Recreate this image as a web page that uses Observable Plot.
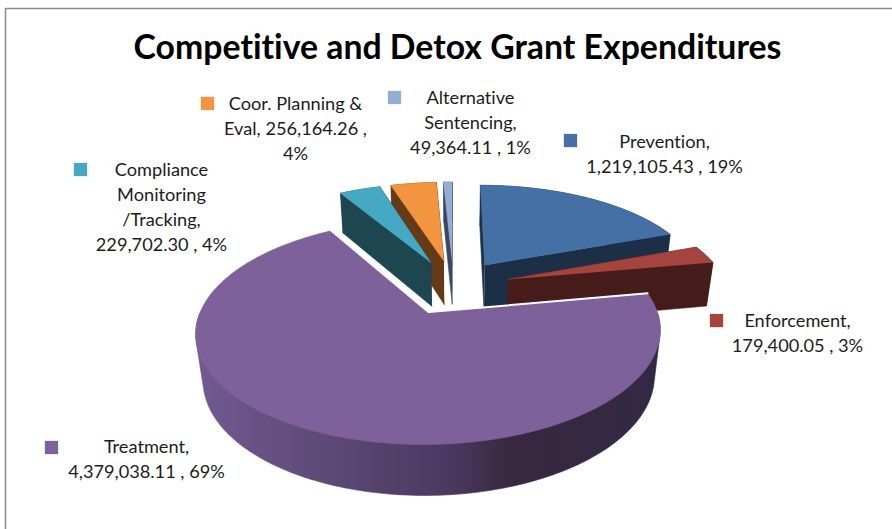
<!DOCTYPE html>
<html>
<head>
<meta charset="utf-8">
<script src="https://cdn.jsdelivr.net/npm/d3@7"></script>
<script src="https://cdn.jsdelivr.net/npm/@observablehq/plot@0.6"></script>
<style>html,body{margin:0;padding:0;background:#fff}svg{display:block}svg text{font-variant-ligatures:none;font-feature-settings:"liga" 0}</style>
</head>
<body>
<div id="chart"></div>
<script>
// Data
const categories = ["Prevention", "Enforcement", "Treatment", "Compliance Monitoring /Tracking", "Coor. Planning & Eval", "Alternative Sentencing"];
const expenditures = [1219105.43, 179400.05, 4379038.11, 229702.30, 256164.26, 49364.11];
const labelTexts = [
  "Prevention,\n1,219,105.43 , 19%",
  "Enforcement,\n179,400.05 , 3%",
  "Treatment,\n4,379,038.11 , 69%",
  "Compliance\nMonitoring\n/Tracking,\n229,702.30 , 4%",
  "Coor. Planning &\nEval, 256,164.26 ,\n4%",
  "Alternative\nSentencing,\n49,364.11 , 1%"
];
const chartTitle = "Competitive and Detox Grant Expenditures";

// Styles
const topColors = ["#4570a6", "#a5433f", "#7e609b", "#46a9c4", "#f29440", "#95acd4"];
const wallColors = ["#1b2f47", "#461c1a", "url(#treatmentWall)", "#1d4651", "#653b16", "#3a4763"];
const gradientStops = [[0, "#725a92"], [0.25, "#5f4b78"], [0.55, "#4a395f"], [0.68, "#38273f"], [1, "#322944"]];

// Layout
const W = 892, H = 529;
const cam = {cx: 453, cy: 286, a: 219, b: 100, k: 0.17, m: 0.027, d: 45.8, explodeU: 0.26, explodeV: 0.27};
const firstLineAt = [[664, 140], [797, 319], [146, 445], [161, 168], [295, 102], [470, 96]];
const lineStep = 24.7;
const swatchAt = [[570, 140], [716, 320], [51, 447], [80, 169], [207, 103], [394, 97]];
const drawOrder = [0, 5, 4, 3, 1, 2];

// Pie geometry derived from the values
const total = d3.sum(expenditures);
let running = 0;
const slices = expenditures.map((v, i) => {
  const start = running / total * 2 * Math.PI;
  running += v;
  const end = running / total * 2 * Math.PI;
  return {i, start, end, mid: (start + end) / 2};
});
function project(s, r, theta, z) {
  const U = r * Math.sin(theta) + cam.explodeU * Math.sin(s.mid);
  const V = -r * Math.cos(theta) - cam.explodeV * Math.cos(s.mid);
  const w = 1 - cam.k * V + cam.m * z;
  return {x: cam.cx + cam.a * U / w, y: cam.cy + (cam.b * V + cam.d * z) / w};
}
function arc(s, z) {
  const n = Math.max(2, Math.ceil((s.end - s.start) / (Math.PI / 180)));
  return d3.range(n + 1).map(j => project(s, 1, s.start + (s.end - s.start) * j / n, z));
}
const apex = (s, z) => project(s, 0, 0, z);
const sideWall = (s, theta) => [apex(s, 0), project(s, 1, theta, 0), project(s, 1, theta, 1), apex(s, 1)];
const outerWall = s => [...arc(s, 0), ...arc(s, 1).reverse()];
const topFace = s => [apex(s, 0), ...arc(s, 0)];

// The front half of the treatment wall, closed over its silhouette
function frontWall(s) {
  const inFront = p => p.y > project(s, 1, Math.PI / 2, 0).y - 40;
  const pts = [...arc(s, 0), ...arc(s, 1)].filter((p, j, all) => {
    const n = all.length / 2, k = j % n;
    const theta = s.start + (s.end - s.start) * k / (n - 1);
    return theta >= Math.PI / 2 && theta <= 1.5 * Math.PI;
  });
  return d3.polygonHull(pts.map(p => [p.x, p.y])).map(([x, y]) => ({x, y}));
}

const polygon = (pts, color) => Plot.line(pts, {x: "x", y: "y", fill: color, stroke: color, strokeWidth: 0.6, strokeLinejoin: "round"});

const pieMarks = drawOrder.flatMap(i => {
  const s = slices[i], wall = wallColors[i];
  if (i === 2) return [polygon(frontWall(s), wall), polygon(topFace(s), topColors[i])];
  const onLeft = s.mid > Math.PI;
  const sides = onLeft
    ? [polygon(sideWall(s, s.end), wall), polygon(sideWall(s, s.start), wall)]
    : [polygon(sideWall(s, s.start), wall), polygon(sideWall(s, s.end), wall)];
  return [polygon(outerWall(s), wall), ...sides, polygon(topFace(s), topColors[i])];
});

const defsMark = () => {
  const svgNS = "http://www.w3.org/2000/svg";
  const defs = document.createElementNS(svgNS, "defs");
  const g = document.createElementNS(svgNS, "linearGradient");
  g.setAttribute("id", "treatmentWall");
  gradientStops.forEach(([o, c]) => {
    const st = document.createElementNS(svgNS, "stop");
    st.setAttribute("offset", o);
    st.setAttribute("stop-color", c);
    g.appendChild(st);
  });
  defs.appendChild(g);
  return defs;
};

const t = slices[2];
const treatmentEdge = [project(t, 1, t.end, 0), apex(t, 0), project(t, 1, t.start, 0)];

const labelRows = labelTexts.map((text, i) => ({
  text, name: categories[i], x: firstLineAt[i][0],
  y: firstLineAt[i][1] + (text.split("\n").length - 1) * lineStep / 2
}));
const swatchRows = swatchAt.map((p, i) => ({x: p[0], y: p[1], color: topColors[i]}));

const chart = Plot.plot({
  width: W, height: H,
  margin: 0,
  x: {domain: [0, W], range: [0, W], axis: null},
  y: {domain: [0, H], range: [0, H], axis: null},
  color: {type: "identity"},
  style: {background: "#fff", fontFamily: "Lato, 'Open Sans', sans-serif"},
  marks: [
    defsMark,
    Plot.ruleX([5], {y1: 8, y2: H, stroke: "#8a8a8a", strokeWidth: 1.5}),
    Plot.ruleY([8], {x1: 5, x2: W, stroke: "#8a8a8a", strokeWidth: 1.5}),
    ...pieMarks,
    Plot.line(treatmentEdge, {x: "x", y: "y", stroke: "#fff", strokeWidth: 2}),
    Plot.text([chartTitle], {x: () => 457, y: () => 48, text: d => d, fontSize: 33.8, fontWeight: 700, fill: "#000", fontFamily: "Lato"}),
    Plot.dot(swatchRows, {x: "x", y: "y", symbol: "square", r: 7.5, fill: "color", stroke: "none"}),
    Plot.text(labelRows, {x: "x", y: "y", text: "text", fontSize: 18.2, lineHeight: lineStep / 18.2, lineAnchor: "middle", textAnchor: "middle", fill: "#1c1c1c", fontFamily: "Lato"})
  ]
});
document.getElementById("chart").appendChild(chart);
</script>
</body>
</html>
